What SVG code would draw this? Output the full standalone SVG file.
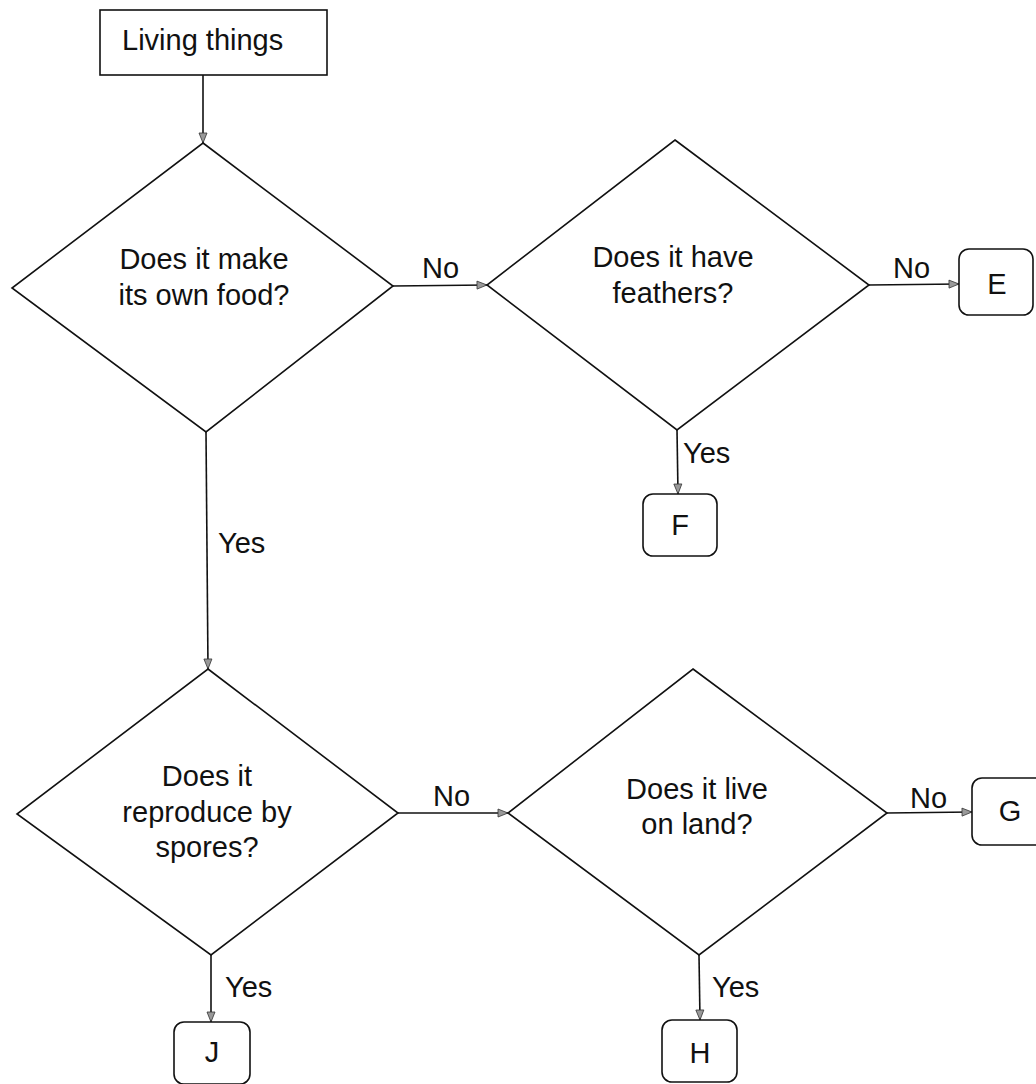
<svg xmlns="http://www.w3.org/2000/svg" width="1036" height="1084" viewBox="0 0 1036 1084">
<style>
.shape{fill:#fff;stroke:#111;stroke-width:1.6}
.t{font-family:"Liberation Sans",Arial,sans-serif;font-size:29px;fill:#111}
.c{text-anchor:middle}
.conn line{stroke:#111;stroke-width:1.6}
</style>
<defs>
<marker id="arr" markerWidth="12" markerHeight="10" refX="11" refY="5" orient="auto" markerUnits="userSpaceOnUse">
<path d="M1,1 L11,5 L1,9 z" fill="#999" stroke="#333" stroke-width="0.8"/>
</marker>
</defs>
<rect width="1036" height="1084" fill="#fff"/>
<g id="connectors" class="conn">
<line x1="203" y1="75" x2="203" y2="143" marker-end="url(#arr)"/>
<line x1="393" y1="286" x2="487" y2="285" marker-end="url(#arr)"/>
<line x1="869" y1="285" x2="959" y2="284" marker-end="url(#arr)"/>
<line x1="677" y1="430" x2="678" y2="494" marker-end="url(#arr)"/>
<line x1="206" y1="432" x2="208" y2="669" marker-end="url(#arr)"/>
<line x1="398" y1="813" x2="508" y2="813" marker-end="url(#arr)"/>
<line x1="887" y1="813" x2="972" y2="812" marker-end="url(#arr)"/>
<line x1="211" y1="955" x2="211" y2="1022" marker-end="url(#arr)"/>
<line x1="699" y1="955" x2="700" y2="1020" marker-end="url(#arr)"/>
<text class="t" x="422" y="278">No</text>
<text class="t" x="893" y="278">No</text>
<text class="t" x="433" y="806">No</text>
<text class="t" x="910" y="808">No</text>
<text class="t" x="683" y="463">Yes</text>
<text class="t" x="218" y="553">Yes</text>
<text class="t" x="225" y="997">Yes</text>
<text class="t" x="712" y="997">Yes</text>
</g>
<g id="start">
<rect class="shape" x="100" y="10" width="227" height="65"/>
<text class="t" x="122" y="50">Living things</text>
</g>
<g id="q1">
<polygon class="shape" points="203,143 393,286 206,432 12,288"/>
<text class="t c" x="204" y="269">Does it make</text>
<text class="t c" x="204" y="305">its own food?</text>
</g>
<g id="q2">
<polygon class="shape" points="675,140 869,285 677,430 487,285"/>
<text class="t c" x="673" y="267">Does it have</text>
<text class="t c" x="673" y="303">feathers?</text>
</g>
<g id="q3">
<polygon class="shape" points="208,669 398,813 211,955 17,814"/>
<text class="t c" x="207" y="786">Does it</text>
<text class="t c" x="207" y="822">reproduce by</text>
<text class="t c" x="207" y="857">spores?</text>
</g>
<g id="q4">
<polygon class="shape" points="693,669 887,813 699,955 508,813"/>
<text class="t c" x="697" y="799">Does it live</text>
<text class="t c" x="697" y="834">on land?</text>
</g>
<g id="E">
<rect class="shape" x="959" y="249" width="74" height="66" rx="10"/>
<text class="t c" x="997" y="294">E</text>
</g>
<g id="F">
<rect class="shape" x="643" y="494" width="74" height="62" rx="10"/>
<text class="t c" x="680" y="535">F</text>
</g>
<g id="G">
<rect class="shape" x="972" y="778" width="74" height="67" rx="10"/>
<text class="t c" x="1010" y="821">G</text>
</g>
<g id="J">
<rect class="shape" x="174" y="1022" width="76" height="62" rx="10"/>
<text class="t c" x="212" y="1062">J</text>
</g>
<g id="H">
<rect class="shape" x="662" y="1020" width="75" height="62" rx="10"/>
<text class="t c" x="700" y="1063">H</text>
</g>
</svg>
